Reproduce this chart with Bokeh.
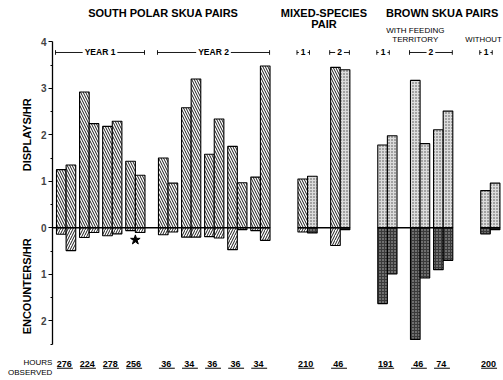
import math
from bokeh.plotting import figure
from bokeh.models import ColumnDataSource, Range1d, LinearAxis, FixedTicker
from bokeh.core.properties import value
from bokeh.embed import file_html
from bokeh.resources import INLINE

# ---------------- data ----------------
sp_y1_displays = [1.25, 1.35, 2.92, 2.24, 2.18, 2.29, 1.43, 1.13]
sp_y1_encounters = [0.14, 0.49, 0.21, 0.10, 0.17, 0.13, 0.06, 0.10]
sp_y1_hours = ["276", "224", "278", "256"]

sp_y2_displays = [1.50, 0.96, 2.58, 3.20, 1.58, 2.34, 1.75, 0.97, 1.09, 3.48]
sp_y2_encounters = [0.15, 0.09, 0.20, 0.20, 0.19, 0.22, 0.47, 0.04, 0.06, 0.27]
sp_y2_hours = ["36", "34", "36", "36", "34"]

mixed_y1_displays = [1.05, 1.11]
mixed_y1_encounters = [0.09, 0.11]
mixed_y2_displays = [3.45, 3.40]
mixed_y2_encounters = [0.38, 0.04]
mixed_hours = ["210", "46"]
mixed_species = ["sp", "br"]

brown_fed_y1_displays = [1.78, 1.98]
brown_fed_y1_encounters = [1.63, 0.99]
brown_fed_y2_displays = [3.17, 1.81, 2.11, 2.51]
brown_fed_y2_encounters = [2.40, 1.08, 0.90, 0.70]
brown_fed_hours = ["191", "46", "74"]

brown_unfed_displays = [0.80, 0.96]
brown_unfed_encounters = [0.13, 0.04]
brown_unfed_hours = ["200"]

y_ticks = [-2, -1, 0, 1, 2, 3, 4]
y_minor = [-2.5, -1.5, -0.5, 0.5, 1.5, 2.5, 3.5]
starred_pair = 3  # index of the pair marked with a star

FONT = "Liberation Sans"

# ---------------- layout structure ----------------
groups = [
    [("YEAR 1", sp_y1_displays, sp_y1_encounters, sp_y1_hours, ["sp", "sp"], False),
     ("YEAR 2", sp_y2_displays, sp_y2_encounters, sp_y2_hours, ["sp", "sp"], False)],
    [("1", mixed_y1_displays, mixed_y1_encounters, mixed_hours[:1], mixed_species, True),
     ("2", mixed_y2_displays, mixed_y2_encounters, mixed_hours[1:], mixed_species, False)],
    [("1", brown_fed_y1_displays, brown_fed_y1_encounters, brown_fed_hours[:1], ["br", "br"], True),
     ("2", brown_fed_y2_displays, brown_fed_y2_encounters, brown_fed_hours[1:], ["br", "br"], False)],
    [("1", brown_unfed_displays, brown_unfed_encounters, brown_unfed_hours, ["br", "br"], True)],
]

PAIR_GAP, SUB_GAP, GROUP_GAP = 0.4, 1.4, 2.9

bars = {"sp": dict(x=[], top=[], enc=[]), "br": dict(x=[], top=[], enc=[])}
pair_x, pair_hours, pair_enc = [], [], []
brackets = []
group_spans = []
x = 0.0
for gi, g in enumerate(groups):
    if gi > 0:
        x += GROUP_GAP
    g_left = x
    for si, (lab, disp, enc, hrs, kinds, short) in enumerate(g):
        if si > 0:
            x += SUB_GAP
        s_left = x
        for pi in range(len(hrs)):
            if pi > 0:
                x += PAIR_GAP
            p_left = x
            for b in range(2):
                k = kinds[b]
                bars[k]["x"].append(x + 0.5)
                bars[k]["top"].append(disp[2 * pi + b])
                bars[k]["enc"].append(-enc[2 * pi + b])
                x += 1.0
            pair_x.append((p_left + x) / 2)
            pair_hours.append(hrs[pi])
            pair_enc.append(max(enc[2 * pi], enc[2 * pi + 1]))
        if short:
            brackets.append((lab, s_left - 0.1, s_left + 1.2))
        else:
            brackets.append((lab, s_left - 0.1, x - 0.05))
    group_spans.append((g_left, x))

axis_x = -PAIR_GAP

p = figure(width=503, height=380, x_range=Range1d(-5.82, 46.47), y_range=Range1d(-3.284, 4.888),
           output_backend="svg", toolbar_location=None, min_border=0,
           x_axis_location=None, y_axis_location=None)
p.grid.visible = False
p.outline_line_color = None
p.background_fill_color = "white"

# bars
sp = ColumnDataSource(bars["sp"])
br = ColumnDataSource(bars["br"])
p.vbar(x="x", top="top", bottom=0, width=1.0, source=sp, fill_color="white", line_color="black",
       line_width=1.1, hatch_pattern="\\", hatch_color="black", hatch_scale=5, hatch_weight=0.9)
p.vbar(x="x", top=0, bottom="enc", width=1.0, source=sp, fill_color="white", line_color="black",
       line_width=1.1, hatch_pattern="/", hatch_color="black", hatch_scale=5, hatch_weight=0.9)
p.vbar(x="x", top="top", bottom=0, width=1.0, source=br, fill_color="#dcdcdc", line_color="black",
       line_width=1.1, hatch_pattern=".", hatch_color="#4a4a4a", hatch_scale=3, hatch_weight=1)
p.vbar(x="x", top=0, bottom="enc", width=1.0, source=br, fill_color="#3a3a3a", line_color="black",
       line_width=1.1, hatch_pattern=".", hatch_color="#bdbdbd", hatch_scale=3, hatch_weight=1)

# baselines
bx0 = [axis_x if i == 0 else s[0] for i, s in enumerate(group_spans)]
bx1 = [s[1] for s in group_spans]
p.segment(x0=bx0, y0=[0] * len(bx0), x1=bx1, y1=[0] * len(bx1), line_color="black", line_width=1.6)

# star
p.scatter(x=[pair_x[starred_pair]], y=[-(pair_enc[starred_pair] + 0.16)], marker="star", size=10,
          fill_color="black", line_color="black")

# brackets
BR_Y = 3.77
bl = [b[1] for b in brackets]
brr = [b[2] for b in brackets]
p.segment(x0=bl, y0=[BR_Y] * len(bl), x1=brr, y1=[BR_Y] * len(bl), line_color="black", line_width=0.9)
p.segment(x0=bl + brr, y0=[BR_Y - 0.05] * (2 * len(bl)), x1=bl + brr, y1=[BR_Y + 0.05] * (2 * len(bl)),
          line_color="black", line_width=0.9)
p.text(x=[(b[1] + b[2]) / 2 for b in brackets], y=[BR_Y] * len(brackets), text=[b[0] for b in brackets],
       text_font=value(FONT), text_font_style="bold", text_font_size="8.5px", text_align="center",
       text_baseline="middle", background_fill_color="white", padding=2)

# axis
yaxis = LinearAxis(fixed_location=axis_x,
                   ticker=FixedTicker(ticks=y_ticks, minor_ticks=y_minor), bounds=(-2.5, 4))
yaxis.major_label_overrides = {t: str(abs(t)) for t in y_ticks}
yaxis.axis_line_width = 1.3
yaxis.major_tick_out = 4
yaxis.major_tick_in = 0
yaxis.minor_tick_out = 2
yaxis.minor_tick_in = 0
yaxis.major_label_standoff = 2
yaxis.major_label_text_font = FONT
yaxis.major_label_text_font_style = "bold"
yaxis.major_label_text_font_size = "10px"
p.add_layout(yaxis, "left")

# axis titles
p.text(x=[-3.05, -3.05], y=[2.0, -1.26], text=["DISPLAYS/HR", "ENCOUNTERS/HR"], angle=math.pi / 2,
       text_font=value(FONT), text_font_style="bold", text_font_size="11px",
       text_align="center", text_baseline="middle")

# group titles
sp_c = (group_spans[0][0] + group_spans[0][1]) / 2
mx_c = (group_spans[1][0] + group_spans[1][1]) / 2
bf_c = (group_spans[2][0] + group_spans[2][1]) / 2
p.text(x=[sp_c, mx_c, mx_c], y=[4.62, 4.62, 4.39], text=["SOUTH POLAR SKUA PAIRS", "MIXED-SPECIES", "PAIR"],
       text_font=value(FONT), text_font_style="bold", text_font_size="11px",
       text_align="center", text_baseline="middle")
p.text(x=[group_spans[2][0] + 0.85], y=[4.62], text=["BROWN SKUA PAIRS"],
       text_font=value(FONT), text_font_style="bold", text_font_size="11px",
       text_align="left", text_baseline="middle")
p.text(x=[bf_c, bf_c], y=[4.245, 4.05], text=["WITH FEEDING", "TERRITORY"],
       text_font=value(FONT), text_font_size="8px", text_align="center", text_baseline="middle")
p.text(x=[group_spans[3][0] - 1.6], y=[4.05], text=["WITHOUT"],
       text_font=value(FONT), text_font_size="7.8px", text_align="left", text_baseline="middle")

# hours observed
p.text(x=[c - 0.2 for c in pair_x], y=[-2.92] * len(pair_x), text=pair_hours,
       text_font=value(FONT), text_font_style="bold", text_font_size="9px",
       text_align="center", text_baseline="middle")
p.segment(x0=[c - 0.95 for c in pair_x], y0=[-3.02] * len(pair_x),
          x1=[c + 0.7 for c in pair_x], y1=[-3.02] * len(pair_x), line_color="black", line_width=1)
p.text(x=[axis_x - 0.03, axis_x - 0.03], y=[-2.89, -3.11], text=["HOURS", "OBSERVED"],
       text_font=value(FONT), text_font_size="8px", text_align="right", text_baseline="middle")

open("out.html", "w").write(file_html(p, INLINE))
